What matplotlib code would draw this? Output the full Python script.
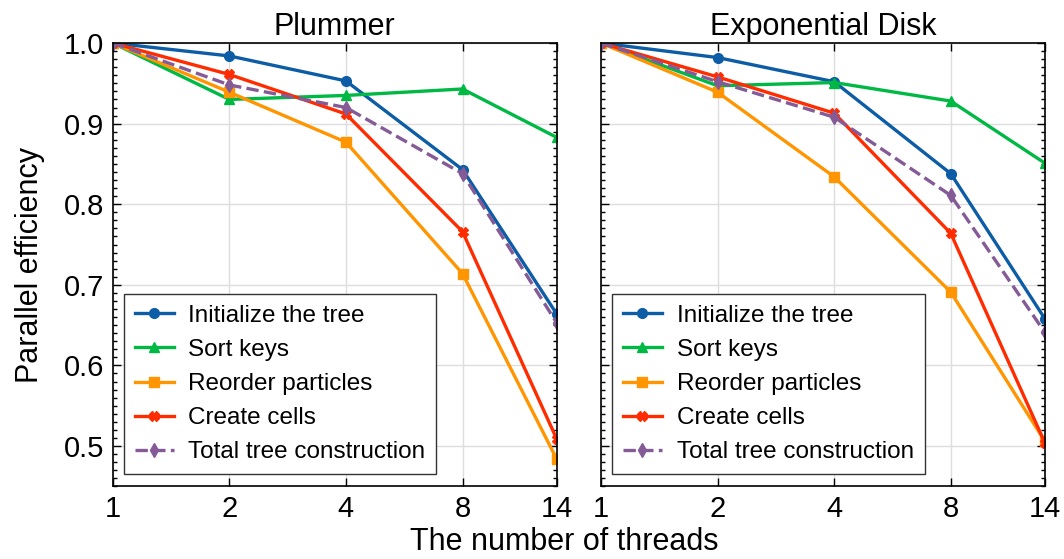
import matplotlib
matplotlib.use("Agg")
import matplotlib.pyplot as plt
from matplotlib.ticker import MultipleLocator, FixedLocator, NullLocator

plt.rcParams['font.family'] = ['Liberation Sans', 'DejaVu Sans']

threads = [1, 2, 4, 8, 14]
tick_labels = ["1", "2", "4", "8", "14"]
titles = ["Plummer", "Exponential Disk"]
labels = ["Initialize the tree", "Sort keys", "Reorder particles",
          "Create cells", "Total tree construction"]

# Plummer
plummer_init = [1.0, 0.984, 0.953, 0.843, 0.664]
plummer_sort = [1.0, 0.930, 0.935, 0.943, 0.883]
plummer_reorder = [1.0, 0.939, 0.877, 0.714, 0.484]
plummer_cells = [1.0, 0.961, 0.912, 0.766, 0.509]
plummer_total = [1.0, 0.948, 0.920, 0.838, 0.653]

# Exponential disk
disk_init = [1.0, 0.982, 0.952, 0.838, 0.658]
disk_sort = [1.0, 0.947, 0.951, 0.928, 0.851]
disk_reorder = [1.0, 0.939, 0.834, 0.691, 0.506]
disk_cells = [1.0, 0.958, 0.913, 0.764, 0.504]
disk_total = [1.0, 0.952, 0.908, 0.811, 0.641]

panels = [
    [plummer_init, plummer_sort, plummer_reorder, plummer_cells, plummer_total],
    [disk_init, disk_sort, disk_reorder, disk_cells, disk_total],
]

colors = ['#0C5DA5', '#00B945', '#FF9500', '#FF2C00', '#845B97']
markers = ['o', '^', 's', 'X', 'd']
styles = ['-', '-', '-', '-', '--']

fig, axes = plt.subplots(1, 2, figsize=(10.64, 5.59), dpi=100, sharey=True)
fig.subplots_adjust(left=0.106, right=0.982, top=0.923, bottom=0.13, wspace=0.1)

for ax, series, title in zip(axes, panels, titles):
    for vals, c, m, ls, lab in zip(series, colors, markers, styles, labels):
        ax.plot(threads, vals, color=c, marker=m, linestyle=ls, lw=2.4,
                markersize=7, label=lab)
    ax.set_xscale('log')
    ax.set_xlim(1, 14)
    ax.set_ylim(0.45, 1.0)
    ax.xaxis.set_major_locator(FixedLocator(threads))
    ax.xaxis.set_minor_locator(NullLocator())
    ax.set_xticklabels(tick_labels)
    ax.yaxis.set_major_locator(MultipleLocator(0.1))
    ax.yaxis.set_minor_locator(MultipleLocator(0.01))
    ax.tick_params(which='both', direction='in', top=True, right=True, labelsize=21)
    ax.tick_params(which='major', length=6, width=1, pad=6)
    ax.tick_params(which='minor', length=3, width=1)
    ax.grid(True, color='#dddddd', lw=1)
    ax.set_title(title, fontsize=22, pad=6)
    for sp in ax.spines.values():
        sp.set_linewidth(1.2)
    leg = ax.legend(loc='lower left', fontsize=17.5, fancybox=False,
                    edgecolor='#333333', framealpha=1, borderpad=0.45,
                    handlelength=1.6, handletextpad=0.6, labelspacing=0.5,
                    borderaxespad=0, bbox_to_anchor=(0.025, 0.027))
    leg.get_frame().set_linewidth(1.0)

axes[0].set_ylabel("Parallel efficiency", fontsize=22, labelpad=14)
fig.text(0.53, 0.003, "The number of threads", ha='center', va='bottom', fontsize=22)

fig.savefig("out.png", dpi=100)
